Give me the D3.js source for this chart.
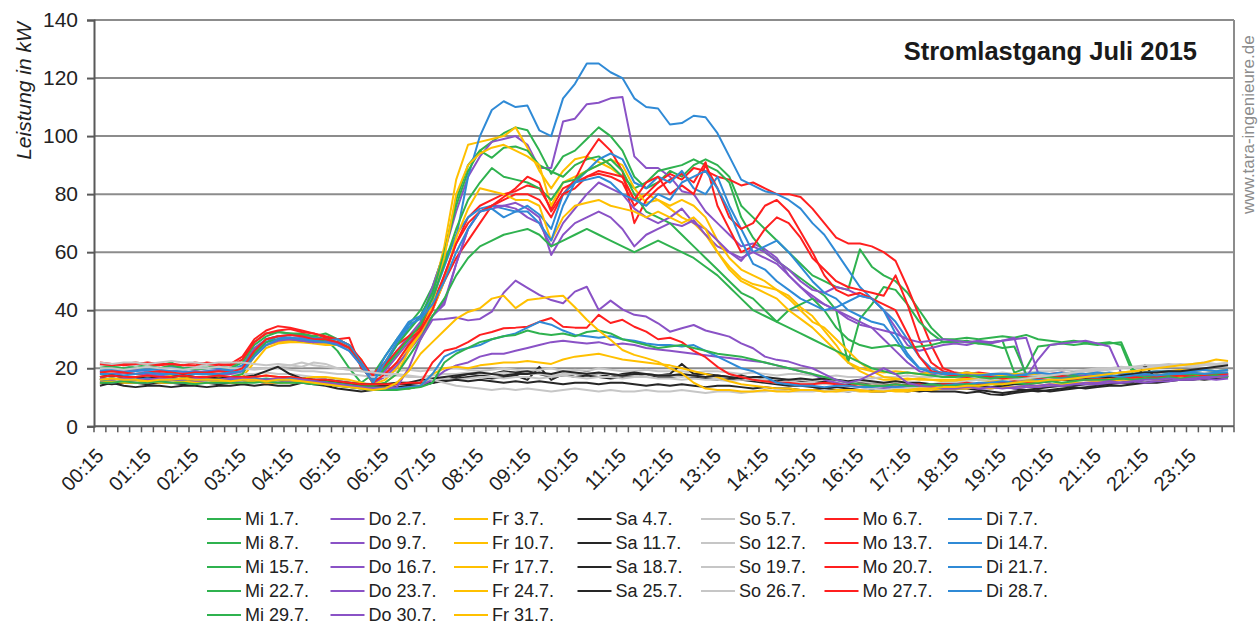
<!DOCTYPE html>
<html>
<head>
<meta charset="utf-8">
<script src="https://cdn.jsdelivr.net/npm/d3@7"></script>
<style>
  body { margin: 0; background: #fff; }
  svg { display: block; font-family: "Liberation Sans", Arial, sans-serif; }
</style>
</head>
<body>
<svg id="chart" width="1260" height="627"></svg>
<script>
// Quarter-hour intervals of one day
const times = ["00:15","00:30","00:45","01:00","01:15","01:30","01:45","02:00","02:15","02:30","02:45","03:00",
  "03:15","03:30","03:45","04:00","04:15","04:30","04:45","05:00","05:15","05:30","05:45","06:00",
  "06:15","06:30","06:45","07:00","07:15","07:30","07:45","08:00","08:15","08:30","08:45","09:00",
  "09:15","09:30","09:45","10:00","10:15","10:30","10:45","11:00","11:15","11:30","11:45","12:00",
  "12:15","12:30","12:45","13:00","13:15","13:30","13:45","14:00","14:15","14:30","14:45","15:00",
  "15:15","15:30","15:45","16:00","16:15","16:30","16:45","17:00","17:15","17:30","17:45","18:00",
  "18:15","18:30","18:45","19:00","19:15","19:30","19:45","20:00","20:15","20:30","20:45","21:00",
  "21:15","21:30","21:45","22:00","22:15","22:30","22:45","23:00","23:15","23:30","23:45","24:00"];

// Hourly labels shown under the time axis
const timeLabels = ["00:15","01:15","02:15","03:15","04:15","05:15","06:15","07:15","08:15","09:15","10:15","11:15",
  "12:15","13:15","14:15","15:15","16:15","17:15","18:15","19:15","20:15","21:15","22:15","23:15"];

const yTicks = [0, 20, 40, 60, 80, 100, 120, 140];

// Load profiles in kW, one value per quarter hour
const mi01 = [21,20.5,20,21,20.5,21,22,20,20.5,21,20,20.5, 23,29,32,32.5,32,31.5,31,30,26,20,15,18, 24,30,35,40,48,60,78,90,95,98,101,103, 102,95,87,93,95,99,103,100,95,86,82,84, 88,86,90,92,90,86,76,72,68,64,60,56, 52,50,48,47,61,55,52,50,46,40,34,30, 30,30.5,30,30.5,31,30.5,31.5,30,29.5,29,29.5,29, 28.5,29,28,18,17.5,17,17.5,17,18,17.5,18,17];
const do02 = [19,18.5,19,19.5,19,18.5,19,19,18.5,19,19.5,19, 21,27,30,31,30,30.5,30,29.5,29,27,22,15, 20,26,31,36,48,60,74,86,93,98,99,100, 97,89,89,105,106,111,111.5,113,113.5,93,89,89, 86,81,80,74,70,66,62,63,61,58,52,48, 44,42,40,37,35,34,30,26,22,19,18,17, 17,16.5,16,16.5,16,15.5,16,16,15.5,16,16.5,16, 16,16.5,16,16,16.5,17,16.5,17,17,16.5,17,17.5];
const fr03 = [17,17.5,17,17,16.5,17,17.5,17,17,16.5,17,17, 18,24,28,29,29.5,29,29,28.5,28,27,23,15, 17,22,28,34,45,62,85,97,98,99,100,103, 96,88,82,88,92,93,91,89,86,78,80,78, 75,72,70,66,60,55,51,49,48,47,45,41, 38,33,28,22,19,17,16,16,16.5,16,16,15.5, 15.5,16,16,15.5,16,16.5,16,16,15.5,16,16,16.5, 16,16.5,17,16.5,17,17,17.5,17,17.5,17,17.5,17];
const sa04 = [14,15,14,13.5,14,14,13.5,14,14,13.5,14,14, 14.5,14,14.5,14,14,15,14.5,14,13,12.5,12,12.5, 13,13.5,14,14,15,16,16.5,17,17,16.5,17,17.5, 16,20.5,16,18,17,17.5,17,16.5,17,17.5,18,17, 17,17.5,17,16.5,16,16.5,16,15.5,15,14.5,14,14, 13.5,13,13.5,13,12.5,12.5,13,13,12.5,12,12.5,13, 13,13,12.5,12,11.5,12,12.5,13,13.5,14,14,14.5, 14.5,15,15,15.5,15,15.5,16,16,16.5,16,16.5,17];
const so05 = [21,21.5,21,21,22,21.5,21,21,20.5,21,21,20.5, 20.5,20,20,20.5,21,20.5,22,21.5,20,19.5,19,19, 19,19,19.5,19,19.5,20,20,19.5,19,19.5,20,19.5, 19,19.5,20,19,19.5,19,20,19.5,19,19,19.5,19, 19,19,18.5,19,19,18.5,18,18.5,18,17.5,18,18, 17.5,17,17.5,17,17,16.5,17,17,17.5,17,17,17.5, 17,17.5,18,18,18.5,18,18.5,19,19,19.5,19,19.5, 20,20,20.5,20,20.5,21,21,21.5,21,21.5,21,21.5];
const mo06 = [22,21.5,21,21.5,22,21.5,21.5,21,22,21.5,21,21.5, 24,30,33,34.5,34,33,32,30.5,30,30.5,20,18, 22,28,31,34,42,52,63,72,76,78,80,81, 83,82,75,82,84,86,87,86,84,76,80,84, 87,85,89,88,86,85,83,84,82,80,80,79, 75,70,65,63,63,62,60,57,48,38,28,20, 18.5,18,18.5,18,17.5,18,18,17.5,18,18.5,18,18, 18,17.5,17,17.5,17,17,17.5,17,17.5,18,18,18.5];
const di07 = [20,19.5,20,20,19.5,20,20.5,20,19.5,20,20,19.5, 21,26,30,31,31.5,31,30.5,30,29,27,21,15, 21,28,34,38,46,58,65,86,100,109,112,110, 110.5,102,100,113,118,125,125,122,120,113,110,109.5, 104,104.5,107,106.5,101,93,85,83,81,80,78,75, 70,66,60,54,48,44,40,36,30,24,20,18, 17.5,17,17.5,17,17,16.5,17,17,17.5,17,17,17.5, 17,17.5,17,17.5,18,17.5,18,18,18.5,18,18.5,18];
const mi08 = [20,20.5,20,20,20.5,20,21,20,19.5,20,20.5,20, 22,28,31,32.5,32,32,31,32,30,28,22,16, 22,28,33,38,46,60,76,88,95,92.5,96,96.4, 95,90,87.8,86,90,92,93,90,86,82,84,88, 89,90,92,90,88,84,72,65,60,57,54,51, 48,45,40,22,37,42,48,47,42,36,32,29, 29,29.5,28.5,29,29.5,18.5,20,27.5,28,28.5,28,28.5, 28,28.5,29,19.5,18,17.5,18,17.5,18,17.5,17,17.5];
const do09 = [18.5,19,18.5,18,18.5,19,18.5,18.5,19,18.5,18,18.5, 19,25,29,30,30.5,30,30,29.5,29,27,22,16, 19,24,29,33,38,42,56,68,74,76,76,77, 75,72,59,66,70,72,74,72,68,62,66,68, 70,69,71,66,62,60,57,62,60,57,54,50, 47,46,48,47,45,44,40,34,28,26,27,28, 28.5,28,29,28.5,29.5,30.5,17,23,28,28.5,29,29.5, 28.5,27.5,18.4,17.5,17,17,16.5,17,17,17.5,17,17];
const fr10 = [16,16.5,16,16,16.5,16,16,15.5,16,16,16.5,16, 17,22,27,28.5,29,29,28.5,28,28,27,22,14.5, 16,20,27,32,42,58,80,90,94,96,97,95, 93,90,76,84,86,88,90,92,90,82,77,78, 76,78,76,72,64,58,54,52,50,47,44,40, 36,34,30,26,22,19,17,16.5,16,16.5,16,16, 16,16.5,16,16.5,16,16,16.5,16,16,16.5,16,16.5, 17,16.5,17,17,17.5,17,17,17.5,18,17.5,18,18];
const sa11 = [15,14.5,15,15,14.5,15,15,14.5,15,15,14.5,15, 15,15.5,15,15,15.5,16,15.5,15,14.5,14,13.5,13, 13,13.5,13,14,15,16,17,18,17.5,18,19,18.5, 19,18,17,17.5,18,18.5,18,17,18,18.5,18,17.5, 18,21.5,18,18,17.5,17,17.5,16.5,16,15.5,16,15.5, 15,15.5,15,14.5,15,15,14.5,14,14.5,14,13.5,14, 14,13.5,13,13.5,14,13,12.5,12,12.5,13,13.5,13, 13.5,14,14,14.5,15,15,15.5,16,16,16.5,17,17.5];
const so12 = [18,18.5,18,18,18.5,18,18.5,18,18,17.5,18,18, 18,18,18.5,18,18,17.5,17,16.5,16,15.5,15,14.5, 14.5,15,15,15.5,16,16.5,16,16.5,17,17,16.5,17, 17,16.5,17,17.5,17,16.5,17,17,16.5,17,17,16.5, 16.5,16,16.5,16,16,15.5,16,16,15.5,15,15.5,15, 15,14.5,15,15,14.5,14,14.5,14,14,14.5,14,14, 14,14.5,14.5,15,15,15.5,15,15.5,16,16,16.5,16.5, 17,17,17.5,17,17.5,18,18,18.5,18,18.5,19,19];
const mo13 = [21.5,21,21.5,22,21.5,21,21.5,21,21,22,21.5,21, 23,29,32,33,33.5,32.5,32,31,30,28,23,17, 21,26,30,33,40,50,58,64,70,76,78,80, 80,78,72,80,85,93,99,95,88,70,78,82, 85,87,84,91,76,68,60,62,68,72,70,65, 58,54,50,48,47,46,45,52,42,30,22,19, 18,18.5,18,17.5,18,17.5,17,17.5,18,17.5,17,17.5, 17.5,17,17,17.5,17,16.5,17,17,17.5,17,17.5,17.5];
const di14 = [19,19.5,19,19,19.5,19.5,19,19,18.5,19,19,19.5, 20,25,29,31,30.5,30,30,29.5,30,28,22,16, 24,30,36,38,44,55,66,72,75,76,75,74, 76,73,68,80,84,88,92,94,92,84,82,86, 84,88,82,80,86,76,68,60,62,64,60,55, 50,46,44,40,38,36,35,30,24,20,19,18.5, 18,18.5,18,17.5,18,18,17.5,18,18,18.5,18,18, 18,18.5,18,18,18.5,19,18.5,19,19,19.5,19,19.5];
const mi15 = [17,17.5,17,17,17.5,17,17,17.5,17,17,17.5,17, 18,25,29,30,30,29.5,29,30,29,27,21,15, 20,25,30,35,44,56,68,78,84,89,86,85, 84,82,78,84,85,88,90,92,88,80,74,72, 70,66,62,58,54,50,46,44,40,36,40,42, 44,40,34,30,28,27,27.5,28,27,27.5,28,29, 29.5,29,28.5,28,27,27.5,18,18,17.5,17,17.5,17, 17,17.5,17,17.5,17,17,17.5,17.5,17,17.5,17,17.5];
const do16 = [18,18,18.5,18,18,17.5,18,18,18.5,18,18,18, 19,24,28,29.5,30,29.5,29,29,28.5,26,21,15, 17,21,26,31,38,43,56,68,74,75,76,75, 72,70,62,70,75,80,84,82,80,75,72,70, 72,75,70,68,64,60,58,60,58,56,52,48, 45,42,40,38,36,34,33,32,30,29,29.5,30, 29.5,29,29.5,29,29.5,30,30.5,18.3,17.5,17,17,17.5, 17,17,17.5,17,17.5,17,17,17.5,17,17,17.5,17];
const fr17 = [16.5,16,16.5,16,16,16.5,16,16,16.5,16,16,16.5, 17,17,17.5,17,17,16.5,17,17,16.5,16,15,14, 15,18,26,32,40,50,65,75,82,81,80,78, 78,76,64,72,76,77,78,76,75,74,72,74, 72,70,72,68,60,54,50,48,46,44,40,37, 34,30,26,22,20,19,18.5,19,18.5,18,18.5,18, 18,18.5,18,18,17.5,18,18,17.5,18,18,18.5,18, 18.5,18,18.5,19,18.5,19,19,19.5,19,19.5,19,19.5];
const sa18 = [16,16.5,16,16,16.5,16,16,16.5,16,16,15.5,16, 16,16.5,16,16,15.5,15,16,15.5,15,14.5,14,14, 14,14.5,14.5,15,15,15.5,16,15.5,16,15.5,15,15.5, 15,15.5,15,14.5,15,15,14.5,15,15,14.5,14,14.5, 14,14.5,14,13.5,14,14,13.5,13,13.5,13,13,12.5, 12.5,13,12.5,12,12.5,12,12,12.5,12,12.5,12,12, 12,11.5,12,11,10.8,11.5,12,12.5,12,12.5,13,13.5, 14,14.5,15,15,21,16,16.5,17,17,17.5,18,18];
const so19 = [20,20,19.5,20,20.5,20,20,19.5,20,20,20.5,20, 20,19.5,20,20,19.5,19,19,18.5,18,18,17.5,17, 17,17.5,17,17,17.5,18,18,18.5,18,18,18.5,18, 18,18,17.5,18,18,18.5,18,18,17.5,17.5,18,17.5, 17.5,17,17.5,17,16.5,17,17,16.5,16,16.5,16,16, 15.5,16,15.5,15,15.5,15,15,14.5,15,15,14.5,15, 15,15.5,16,16,16.5,17,17,17.5,18,18,18.5,19, 19,19.5,20,20.5,20,20.5,21,21,20.5,21,21.5,21];
const mo20 = [18.5,19,18.5,18,18.5,19,18.5,18,18.5,18.5,19,18.5, 20,26,30,31,31.5,31,30,30,29,27,21,15, 18,22,28,33,40,52,63,70,74,76,79,82, 86,84,74,80,82,86,88,87,86,78,84,86, 80,83,80,90,82,72,68,70,76,78,74,67, 60,52,47,45,46,44,42,40,32,24,19,18, 17.5,17,17.5,17,16.5,17,17,16.5,17,17,16.5,17, 16.5,17,17,16.5,17,17.5,17,17.5,17,17.5,18,17.5];
const di21 = [18,18,17.5,18,18.5,18,18,17.5,18,18,18,18.5, 19,24,28,30,30.5,30,29.5,29,28,26,21,15, 22,29,35,37,42,50,60,68,74,75,72,74, 74,70,64,76,84,85,86,84,80,78,76,80, 78,84,86,88,82,74,64,56,54,50,47,44, 42,40,41,43,45,44,40,32,25,20,18.5,18, 18,17.5,17.5,18,18,17.5,18,18.5,18,18,18.5,18, 18.5,18,18.5,18,18.5,19,19,18.5,19,19.5,19,19.5];
const mi22 = [16,16,16.5,16,16,15.5,16,16,16.5,16,16,16, 16.5,16,16.5,16,16,16.5,16,15.5,15,14.5,14,14, 15,18,24,30,38,44,52,58,62,64,66,67, 68,66,62,64,66,68,66,64,62,60,62,64, 62,60,58,55,52,48,44,40,38,36,34,32, 30,28,26,24,22,20,19,18,18.5,18,17.5,17, 17,17.5,17,16.5,17,17,16.5,17,17,16.5,17,17, 17,17.5,17,17.5,17,17.5,18,17.5,18,17.5,18,18];
const do23 = [15.5,15,15.5,15,15,15.5,15,15,15.5,15,15,15.5, 15,15.5,15,15,15.5,15,15,14.5,14,13.5,13,13, 13,13,13.5,14,16,19,21,22,24,25,25,26, 27,28,29,29.5,29,28.5,29,28,28.5,28,27,26.5, 26,25.5,25,24.5,24,23.5,23,22.5,22,21,20,19, 18,16,15,14,13.5,13,13,13.5,13,13,13.5,13, 13,13.5,13,13,13.5,13,13.5,13.5,14,14,14.5,14.5, 14.5,15,15,15.5,15,15.5,15.5,16,16,16.5,16,16.5];
const fr24 = [15,15.5,15,15,15.5,15,15,15.5,15,15,15.5,15, 15,15.5,15,15,15,15.5,15,14.5,14,13.5,13,12.5, 12.5,13,13,14,18,20,20.5,20,21,21.5,22,22, 22.5,22,21.5,23,24,24.5,25,24,23,22.5,22,21.5, 21,20,19,18,17,15.5,14.5,14,13.5,13,13,12.5, 12.5,12,12.5,12.5,12,12,12.5,12,12,12.5,12.5,13, 13,13,13.5,13,13.5,13.5,14,14,14.5,14.5,15,15, 15.5,15.5,16,16,16.5,16,16.5,17,17,17.5,17,17.5];
const sa25 = [17,17.5,17,17,16.5,17,17,17.5,17,17,16.5,17, 17,17.5,19,20.5,18,16.5,16,16,15.5,15,14.5,14.5, 14.5,15,15,16,16.5,17,17.5,18,18.5,18,17.5,18, 18,18.5,18,19,18.5,18,18.5,18,17.5,18,18,17.5, 17.5,18,17.5,17,17.5,17,16.5,17,17,16.5,16,16.5, 16,16.5,16,15.5,16,15.5,15,15.5,15,15,14.5,14.5, 14.5,14,14,13.5,14,14.5,14.5,15,15.5,16,16,16.5, 17,17,17.5,18,18.5,18.5,19,19,19.5,20,20.5,21];
const so26 = [22,21.5,22,22,21.5,22,22.5,22,22,21.5,22,22, 22,21.5,21,21.5,21,22,21,20.5,20,19.5,19,18.5, 18,18,17.5,17,16,15,14,13.5,13,12.5,13,12.5, 13,12.5,12,12.5,13,12.5,12,12.5,12,12,12.5,12, 12,12.5,12,11.5,12,12,11.5,12,12,12.5,12,12, 12,12.5,12,12,12.5,13,12.5,13,13,13.5,13,13.5, 14,14,14.5,15,15.5,16,16.5,17,17.5,18,18.5,19, 19.5,20,20,20.5,21,21,21.5,21,21.5,22,21.5,22];
const mo27 = [17,17.5,17,17,17.5,17,17,17.5,17,17,17.5,17, 17,17,17.5,17,17,16.5,16,16,15.5,15,14.5,14.5, 14.5,14.5,15,15,22,26,27,29,31.5,32.5,33.8,34, 34.3,36,37.3,34.3,34,34,38.4,35.6,36.7,34.3,32.6,30, 30.5,29,26,23.8,20.5,18,17,16,15.5,15,15,14.5, 14.5,15,14.5,14,14.5,14,14,14.5,14,14.5,14,14.5, 14.5,15,14.5,15,15,15.5,15,15.5,16,16,16.5,16, 16.5,16,16.5,17,16.5,17,17,17.5,17,17.5,17.5,18];
const di28 = [16,16.5,16,16,16.5,16,16,16.5,16,16,16,16.5, 16,16.5,16,16,16.5,16,15.5,15,14.5,14,13.5,13, 13,13,13.5,14,18,24,26,27,28,30,31,32, 34,36,35,33,31.5,31,30.5,31,30,29.5,28.5,28, 28,27.5,28,26,24,22,20,19,17,15,14.5,14, 14,13.5,14,14,13.5,13.5,14,13.5,14,14,14.5,14, 14.5,14.5,15,15,15.5,15,15.5,16,16,16.5,16.5,17, 17,17.5,17,17.5,18,17.5,18,18,18.5,18,18.5,18.5];
const mi29 = [15,15,15.5,15,15,15.5,15,15,14.5,15,15,15, 15,15,15.5,15,15,15,14.5,14.5,14,13.5,13,12.5, 12.5,12.5,13,13.5,15,22,25,27,29,30,31,31.5, 33,32,31.5,32,31,32.5,33,32,30,29,28,27, 27.5,28,27,26,25,24.5,24,23,22,21,20,19, 18,17,16,15,14.5,14,14,14.5,14,14,14.5,14, 14,14.5,14,14.5,14.5,15,14.5,15,15.5,15,15.5,16, 16,16,16.5,16,16.5,16.5,17,16.5,17,17,17.5,17];
const do30 = [16.5,16,16.5,16,16,16.5,16,16,16.5,16,16,16.5, 16.5,16,16,16.5,16,16,15.5,15,14.5,14,13.5,13, 13,13.5,20,30,36.7,37,37.5,36.5,37,39.5,46,50.2, 47.7,45.3,43.5,42.4,46.4,48.1,40.1,43.3,40.3,38.4,37.8,35.5, 32.6,33.8,34.9,33,32,30.9,28.6,26.9,24,22.9,22.3,21, 20,18,16,15,16,18,20,18,15,14,13.5,13, 13,13.5,13,13.5,13,13.5,14,14,14.5,14,14.5,15, 15,15.5,15,15.5,16,16,16.5,16,16.5,17,17,17.5];
const fr31 = [16,16.5,16,16,15.5,16,16,16.5,16,16,16,15.5, 16,16,15.5,16,16,15.5,15,14.5,14,13.5,13,12.5, 13,15,19,25,29,33,37,39.4,40.7,44,45,40.7, 43.5,44,44.6,45,41,36.7,33,29.8,26.3,24.6,23.5,22.2, 20,18.3,15,13,12.5,12.5,12,12,12.5,12,12,12.5, 12.5,12,12,12.5,12.5,12,12,12.5,12.5,13,13,13.5, 13.5,14,14,14.5,14.5,15,15.5,15.5,16,16,16.5,17, 17.5,18,18.5,19,19.5,20,20.5,21,21.5,22,23,22.5];

const series = [
  { name: "Mi 1.7.",  day: "Mi", values: mi01 }, { name: "Do 2.7.",  day: "Do", values: do02 },
  { name: "Fr 3.7.",  day: "Fr", values: fr03 }, { name: "Sa 4.7.",  day: "Sa", values: sa04 },
  { name: "So 5.7.",  day: "So", values: so05 }, { name: "Mo 6.7.",  day: "Mo", values: mo06 },
  { name: "Di 7.7.",  day: "Di", values: di07 }, { name: "Mi 8.7.",  day: "Mi", values: mi08 },
  { name: "Do 9.7.",  day: "Do", values: do09 }, { name: "Fr 10.7.", day: "Fr", values: fr10 },
  { name: "Sa 11.7.", day: "Sa", values: sa11 }, { name: "So 12.7.", day: "So", values: so12 },
  { name: "Mo 13.7.", day: "Mo", values: mo13 }, { name: "Di 14.7.", day: "Di", values: di14 },
  { name: "Mi 15.7.", day: "Mi", values: mi15 }, { name: "Do 16.7.", day: "Do", values: do16 },
  { name: "Fr 17.7.", day: "Fr", values: fr17 }, { name: "Sa 18.7.", day: "Sa", values: sa18 },
  { name: "So 19.7.", day: "So", values: so19 }, { name: "Mo 20.7.", day: "Mo", values: mo20 },
  { name: "Di 21.7.", day: "Di", values: di21 }, { name: "Mi 22.7.", day: "Mi", values: mi22 },
  { name: "Do 23.7.", day: "Do", values: do23 }, { name: "Fr 24.7.", day: "Fr", values: fr24 },
  { name: "Sa 25.7.", day: "Sa", values: sa25 }, { name: "So 26.7.", day: "So", values: so26 },
  { name: "Mo 27.7.", day: "Mo", values: mo27 }, { name: "Di 28.7.", day: "Di", values: di28 },
  { name: "Mi 29.7.", day: "Mi", values: mi29 }, { name: "Do 30.7.", day: "Do", values: do30 },
  { name: "Fr 31.7.", day: "Fr", values: fr31 }
];

// One colour per weekday
const dayColor = {
  Mi: "#2fb24f", Do: "#8a52c6", Fr: "#ffc000", Sa: "#262626",
  So: "#c6c6c6", Mo: "#ff1f1f", Di: "#2f8ad6"
};

const svg = d3.select("#chart");
const plot = { left: 94, right: 1234, top: 20, bottom: 426.3 };

const x = d3.scaleBand().domain(times).range([plot.left, plot.right]).padding(0);
const xc = t => x(t) + x.bandwidth() / 2;
const y = d3.scaleLinear().domain([0, 140]).range([plot.bottom, plot.top]);

// Horizontal gridlines and frame
svg.append("g").selectAll("line").data(yTicks.filter(v => v > 0)).join("line")
  .attr("x1", plot.left).attr("x2", plot.right)
  .attr("y1", d => y(d)).attr("y2", d => y(d))
  .attr("stroke", "#8c8c8c").attr("stroke-width", 2);
svg.append("line")
  .attr("x1", plot.right).attr("x2", plot.right)
  .attr("y1", y(140)).attr("y2", y(0))
  .attr("stroke", "#8c8c8c").attr("stroke-width", 2);

// Y axis
const yAxis = svg.append("g")
  .attr("transform", `translate(${plot.left},0)`)
  .call(d3.axisLeft(y).tickValues(yTicks).tickSize(7).tickPadding(9));
yAxis.select(".domain").attr("stroke", "#595959").attr("stroke-width", 2);
yAxis.selectAll(".tick line").attr("stroke", "#595959").attr("stroke-width", 2);
yAxis.selectAll(".tick text")
  .attr("font-size", 21).attr("fill", "#222")
  .attr("font-family", "'Liberation Sans', Arial, sans-serif");

svg.append("text")
  .attr("transform", "translate(31,91) rotate(-90)")
  .attr("text-anchor", "middle")
  .attr("font-size", 21).attr("font-style", "italic").attr("fill", "#222")
  .text("Leistung in kW");

// Lines, in calendar order
const line = d3.line()
  .x((d, i) => xc(times[i]))
  .y(d => y(d));

svg.append("g").selectAll("path").data(series).join("path")
  .attr("d", s => line(s.values))
  .attr("fill", "none")
  .attr("stroke", s => dayColor[s.day])
  .attr("stroke-width", 2)
  .attr("stroke-linejoin", "round");

// Time axis with a tick at every quarter hour boundary
svg.append("line")
  .attr("x1", plot.left).attr("x2", plot.right)
  .attr("y1", y(0)).attr("y2", y(0))
  .attr("stroke", "#595959").attr("stroke-width", 2);
const boundaries = times.map(t => x(t)).concat([x(times[times.length - 1]) + x.bandwidth()]);
svg.append("g").selectAll("line").data(boundaries).join("line")
  .attr("x1", d => d).attr("x2", d => d)
  .attr("y1", y(0)).attr("y2", y(0) + 6)
  .attr("stroke", "#595959").attr("stroke-width", 1.5);

svg.append("g").selectAll("text").data(timeLabels).join("text")
  .attr("transform", d => `translate(${xc(d)},452) rotate(-45)`)
  .attr("text-anchor", "end")
  .attr("dy", "0.35em")
  .attr("font-size", 20).attr("fill", "#222")
  .text(d => d);

// Title and source
svg.append("text")
  .attr("x", 1197).attr("y", 60)
  .attr("text-anchor", "end")
  .attr("font-size", 25.5).attr("font-weight", "bold").attr("fill", "#1a1a1a")
  .text("Stromlastgang Juli 2015");

svg.append("text")
  .attr("transform", "translate(1254,214) rotate(-90)")
  .attr("font-size", 17).attr("fill", "#8c8c8c")
  .text("www.tara-ingenieure.de");

// Legend: seven columns (weekdays), five rows (weeks)
const legend = svg.append("g").selectAll("g").data(series).join("g")
  .attr("transform", (d, i) => `translate(${207 + (i % 7) * 123.5},${519 + Math.floor(i / 7) * 24})`);
legend.append("line")
  .attr("x1", 0).attr("x2", 34).attr("y1", 0).attr("y2", 0)
  .attr("stroke", d => dayColor[d.day]).attr("stroke-width", 2);
legend.append("text")
  .attr("x", 38).attr("dy", "0.35em")
  .attr("font-size", 18).attr("fill", "#222")
  .text(d => d.name);

const bad = series.filter(s => s.values.length !== times.length).map(s => s.name + ":" + s.values.length);
if (bad.length) throw new Error("length mismatch " + bad.join(", "));
</script>
</body>
</html>
